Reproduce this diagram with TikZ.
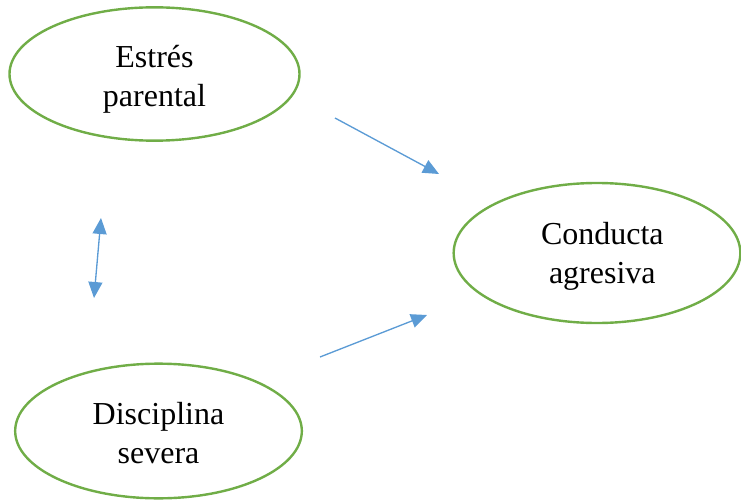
\documentclass[tikz,border=0pt]{standalone}
\usepackage{fontspec}
\setmainfont{Liberation Serif}
\usetikzlibrary{shapes.geometric,arrows.meta}
\definecolor{ovalgreen}{HTML}{70AD47}
\definecolor{arrowblue}{HTML}{5B9BD5}
\begin{document}
\begin{tikzpicture}[x=0.75pt,y=-0.75pt,
  oval/.style={ellipse,draw=ovalgreen,line width=1.8pt,inner sep=0pt},
  ovaltext/.style={align=center,inner sep=0pt,font=\fontsize{24}{29}\selectfont},
  link/.style={draw=arrowblue,line width=1pt},
  tip/.style={-{Triangle[length=12pt,width=10.5pt]}},
  tips/.style={{Triangle[length=12pt,width=10.5pt]}-{Triangle[length=12pt,width=10.5pt]}}]
\useasboundingbox (0,0) rectangle (741,502);
\node[oval,minimum width=217.5pt,minimum height=100pt,
  label={[ovaltext,name=estrestext,shift={(0,-4pt)}]center:Estrés\\parental}] (estres) at (154.5,74) {};
\node[oval,minimum width=215pt,minimum height=105pt,
  label={[ovaltext,name=conductatext,shift={(4pt,-2.5pt)}]center:Conducta\\agresiva}] (conducta) at (597,253) {};
\node[oval,minimum width=215pt,minimum height=101pt,
  label={[ovaltext,name=disciplinatext,shift={(0,-1.5pt)}]center:Disciplina\\severa}] (disciplina) at (158.5,431) {};
\coordinate (a1) at (335,118);
\coordinate (a2) at (439,174);
\coordinate (b1) at (101,218);
\coordinate (b2) at (94,298);
\coordinate (c1) at (320,357);
\coordinate (c2) at (427,315);
\draw[link,tip] (a1) -- (a2);
\draw[link,tips] (b1) -- (b2);
\draw[link,tip] (c1) -- (c2);
\end{tikzpicture}
\end{document}
